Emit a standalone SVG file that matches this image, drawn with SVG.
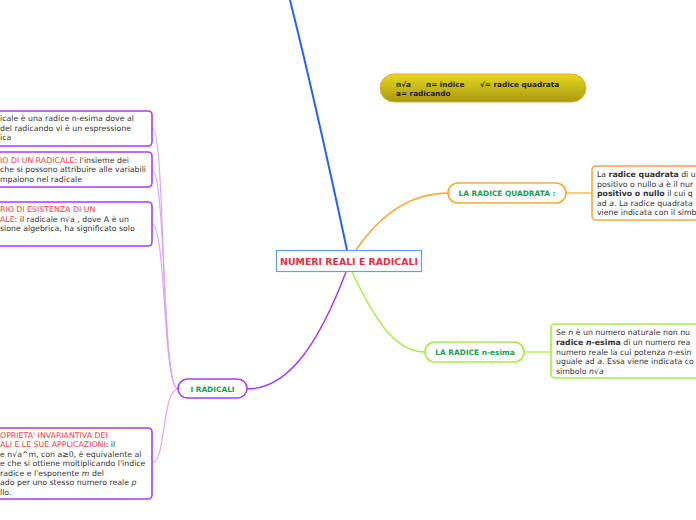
<svg xmlns="http://www.w3.org/2000/svg" width="696" height="520" viewBox="0 0 696 520">
<defs>
<linearGradient id="yg" x1="0" y1="0" x2="0" y2="1">
<stop offset="0" stop-color="#e6d820"/>
<stop offset="1" stop-color="#a89812"/>
</linearGradient>
</defs>
<style>
.t{font-family:"DejaVu Sans",Verdana,sans-serif;font-size:7.8px;fill:#333}
.n{font-family:"DejaVu Sans",Verdana,sans-serif;font-size:7.3px;font-weight:bold;fill:#222}
.r{fill:#f03c46}
.b{font-weight:bold}
.i{font-style:italic}
.lbl{font-family:"DejaVu Sans",Verdana,sans-serif;font-size:7.4px;font-weight:bold;fill:#16a050;text-anchor:middle}
.box{fill:#fff;stroke-width:1.6}
.pu{stroke:#a93cf0}
.c{fill:none}
</style>
<rect width="696" height="520" fill="#fff"/>
<g id="connectors">
<path class="c" d="M347,250 Q315,100 290,0" stroke="#2563f5" stroke-width="2"/>
<path class="c" d="M356,250 C380,215 410,193 448,193" stroke="#f7a934" stroke-width="1.4"/>
<path class="c" d="M566,193 L592,193" stroke="#f7a934" stroke-width="1.2"/>
<path class="c" d="M352,272 C375,320 395,352 425,352" stroke="#9ef23c" stroke-width="1.4"/>
<path class="c" d="M524,352 L551,352" stroke="#9ef23c" stroke-width="1.2"/>
<path class="c" d="M346,272 C320,340 290,389 247,389" stroke="#a93cf0" stroke-width="1.5"/>
<path class="c" d="M152,128 C166,128 160,389 178,389" stroke="#d8a2f8" stroke-width="1.1"/>
<path class="c" d="M152,170 C166,170 162,389 178,389" stroke="#d8a2f8" stroke-width="1.1"/>
<path class="c" d="M152,224 C166,224 163,389 178,389" stroke="#d8a2f8" stroke-width="1.1"/>
<path class="c" d="M152,463 C166,463 162,389 178,389" stroke="#d8a2f8" stroke-width="1.1"/>
</g>
<g id="center">
<rect x="276.5" y="250.5" width="145" height="21" fill="#fff" stroke="#5aa4e0" stroke-width="1.2"/>
<text x="349" y="264.5" font-weight="bold" text-anchor="middle" font-family="DejaVu Sans,Verdana,sans-serif" font-size="9.4" fill="#e8313a">NUMERI REALI E RADICALI</text>
</g>
<g id="note">
<rect x="380" y="74" width="206" height="28" rx="14" fill="url(#yg)" stroke="#f0a830" stroke-width="1"/>
<text class="n" y="87"><tspan x="396">n√a</tspan><tspan x="426">n= indice</tspan><tspan x="480">√= radice quadrata</tspan></text>
<text class="n" x="396" y="96">a= radicando</text>
</g>
<g id="quadrata">
<rect class="box" x="448" y="183" width="118" height="20" rx="10" stroke="#f7a934"/>
<text class="lbl" x="507" y="195.5">LA RADICE QUADRATA :</text>
</g>
<g id="quadrata-def">
<rect class="box" x="592" y="166" width="130" height="54" rx="4" stroke="#f7a934"/>
<text class="t" x="597" y="177">La <tspan class="b">radice quadrata</tspan> di u</text>
<text class="t" x="597" y="187">positivo o nullo <tspan class="i">a</tspan> è il nur</text>
<text class="t" x="597" y="196"><tspan class="b">positivo o nullo</tspan> il cui q</text>
<text class="t" x="597" y="206">ad <tspan class="i">a</tspan>. La radice quadrata</text>
<text class="t" x="597" y="215">viene indicata con il simb</text>
</g>
<g id="nesima">
<rect class="box" x="425" y="342" width="99" height="20" rx="10" stroke="#9ef23c"/>
<text class="lbl" x="475" y="354.5">LA RADICE n-esima</text>
</g>
<g id="nesima-def">
<rect class="box" x="551" y="324" width="170" height="54" rx="4" stroke="#9ef23c"/>
<text class="t" x="556" y="335">Se <tspan class="i">n</tspan> è un numero naturale non nu</text>
<text class="t" x="556" y="345"><tspan class="b">radice <tspan class="i">n</tspan>-esima</tspan> di un numero rea</text>
<text class="t" x="556" y="355">numero reale la cui potenza <tspan class="i">n</tspan>-esin</text>
<text class="t" x="556" y="364">uguale ad <tspan class="i">a</tspan>. Essa viene indicata co</text>
<text class="t" x="556" y="374">simbolo <tspan class="i">n√a</tspan></text>
</g>
<g id="radicali">
<rect class="box pu" x="178" y="379" width="69" height="19" rx="9.5"/>
<text class="lbl" x="212.5" y="391.5">I RADICALI</text>
</g>
<g id="def-radicale">
<rect class="box pu" x="-10" y="111" width="162" height="35" rx="4"/>
<text class="t" x="0" y="121">icale è una radice n-esima dove al</text>
<text class="t" x="0" y="131">del radicando vi è un espressione</text>
<text class="t" x="0" y="140">ica</text>
</g>
<g id="dominio">
<rect class="box pu" x="-10" y="152" width="162" height="35" rx="4"/>
<text class="t" x="0" y="163"><tspan class="r">IO DI UN RADICALE</tspan>: l'insieme dei</text>
<text class="t" x="0" y="172">che si possono attribuire alle variabili</text>
<text class="t" x="0" y="182">mpaiono nel radicale</text>
</g>
<g id="esistenza">
<rect class="box pu" x="-10" y="202" width="162" height="44" rx="4"/>
<text class="t r" x="0" y="212">RIO DI ESISTENZA DI UN</text>
<text class="t" x="0" y="222"><tspan class="r">ALE</tspan>: il radicale n√a , dove A è un</text>
<text class="t" x="0" y="231">sione algebrica, ha significato solo</text>
</g>
<g id="invariantiva">
<rect class="box pu" x="-10" y="428" width="162" height="71" rx="4"/>
<text class="t r" x="0" y="438">OPRIETA' INVARIANTIVA DEI</text>
<text class="t" x="0" y="447"><tspan class="r">ALI E LE SUE APPLICAZIONI</tspan>: il</text>
<text class="t" x="0" y="457">e n√a^m, con a≥0, è equivalente al</text>
<text class="t" x="0" y="466">e che si ottiene moltiplicando l'indice</text>
<text class="t" x="0" y="476"> radice e l'esponente <tspan class="i">m</tspan> del</text>
<text class="t" x="0" y="485">ado per uno stesso numero reale <tspan class="i">p</tspan></text>
<text class="t" x="0" y="495">llo.</text>
</g>
</svg>
